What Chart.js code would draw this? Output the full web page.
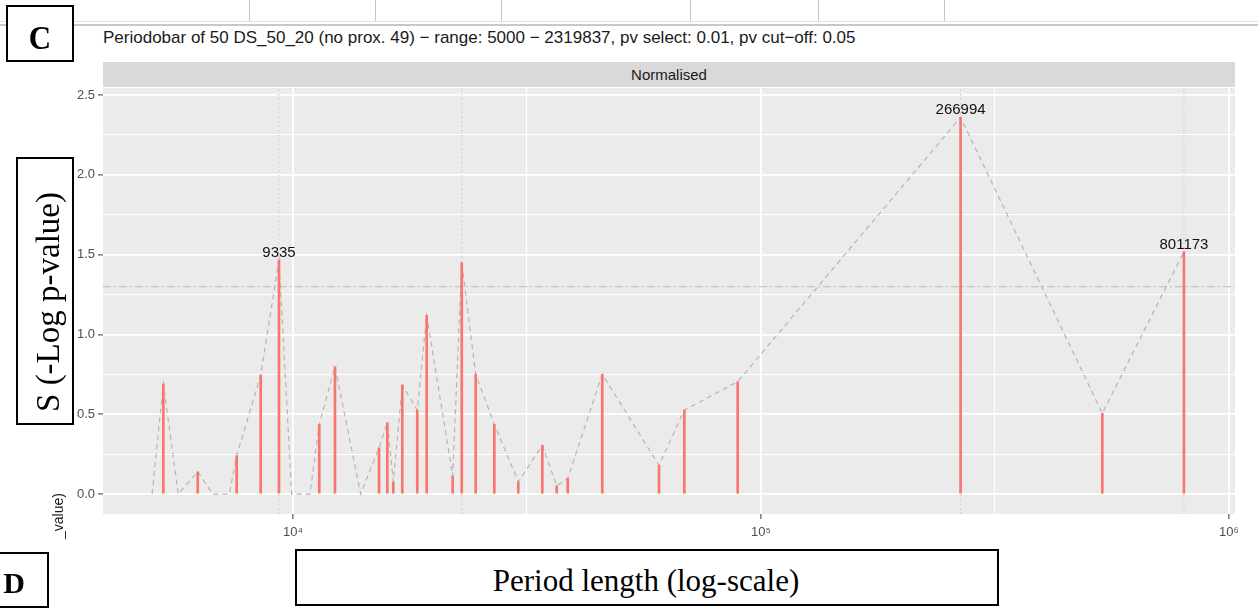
<!DOCTYPE html>
<html><head><meta charset="utf-8">
<script src="https://cdn.jsdelivr.net/npm/chart.js@4.4.0/dist/chart.umd.min.js"></script>
<style>
html,body{margin:0;padding:0;background:#fff;width:1258px;height:610px;overflow:hidden;}
body{position:relative;font-family:'Liberation Sans',Arial,sans-serif;}
#c{position:absolute;left:0;top:0;z-index:2;}
.abs{position:absolute;}
.vline{position:absolute;top:0;width:1px;height:21px;background:#c4c4c4;z-index:1;}
.box{position:absolute;box-sizing:border-box;border:2px solid #000;background:#fff;z-index:3;}
.serif{font-family:'Liberation Serif','Times New Roman',serif;color:#000;white-space:nowrap;line-height:1;}
</style></head><body>
<div class="vline" style="left:249px"></div>
<div class="vline" style="left:375px"></div>
<div class="vline" style="left:501px"></div>
<div class="vline" style="left:690px"></div>
<div class="vline" style="left:818px"></div>
<div class="vline" style="left:944px"></div>
<div class="abs" style="left:0;top:21px;width:1258px;height:1px;background:#e2e2e2;z-index:1"></div>
<div class="abs" style="left:0;top:24px;width:1258px;height:2px;background:#c8c8c8;z-index:1"></div>
<div class="abs" style="left:103px;top:29px;font-size:17px;line-height:17px;color:#1a1a1a;white-space:nowrap;z-index:1">Periodobar of 50 DS_50_20 (no prox. 49) − range: 5000 − 2319837, pv select: 0.01, pv cut−off: 0.05</div>
<div class="abs" style="left:103px;top:62px;width:1132px;height:25px;background:#D9D9D9;z-index:1;text-align:center;line-height:25px;font-size:15px;color:#1a1a1a">Normalised</div>
<canvas id="c" width="1258" height="610"></canvas>

<div class="box" style="left:6px;top:5px;width:68px;height:57px"></div>
<div class="abs serif" style="left:40px;top:37px;transform:translate(-50%,-50%) scaleY(1.12);font-size:31px;font-weight:bold;z-index:4">C</div>

<div class="abs" style="left:58px;top:516px;transform:translate(-50%,-50%) rotate(-90deg);font-size:14px;color:#1a1a1a;white-space:nowrap;z-index:2">_value)</div>

<div class="box" style="left:16px;top:157px;width:58px;height:268px"></div>
<div class="abs serif" style="left:48px;top:302px;transform:translate(-50%,-50%) rotate(-90deg);font-size:33px;z-index:4">S (-Log p-value)</div>

<div class="box" style="left:-22px;top:552px;width:71px;height:56px"></div>
<div class="abs serif" style="left:14px;top:583px;transform:translate(-50%,-50%);font-size:30px;font-weight:bold;z-index:4">D</div>

<div class="box" style="left:295px;top:549px;width:704px;height:57px"></div>
<div class="abs serif" style="left:646px;top:580px;transform:translate(-50%,-50%);font-size:31px;z-index:4">Period length (log-scale)</div>

<script>
// ---- data ----
const periods = [5000, 5284, 5686, 6258, 6736, 7310, 7580, 8531, 9335, 9936, 10873, 11381, 12295, 13953, 15271, 15906, 16382, 17123, 18431, 19307, 21940, 22940, 24570, 26930, 30300, 34100, 36600, 38640, 45800, 60550, 68580, 89170, 266994, 536200, 801173];
const scores  = [0, 0.69, 0, 0.14, 0, 0, 0.24, 0.745, 1.466, 0, 0, 0.437, 0.798, 0, 0.29, 0.447, 0.077, 0.683, 0.526, 1.12, 0.113, 1.45, 0.75, 0.437, 0.077, 0.305, 0.052, 0.098, 0.75, 0.18, 0.526, 0.704, 2.36, 0.506, 1.518];
const labelledPeaks = [9335, 266994, 801173];
const significantPeriods = [9335, 22940, 266994, 801173];
const threshold = 1.3;
const xMajorTicks = [1e4, 1e5, 1e6];
const xTickLabels = ['10⁴', '10⁵', '10⁶'];
const xMinorTicks = [Math.pow(10, 4.5), Math.pow(10, 5.5)];
const yMajorTicks = [0, 0.5, 1, 1.5, 2, 2.5];
const yMinorTicks = [0.25, 0.75, 1.25, 1.75, 2.25];
const xLimits = [3927, 1030000];
const yLimits = [-0.125, 2.544];

// ---- helpers ----
const close = (a, b) => Math.abs(a - b) < 1e-6 * Math.max(1, Math.abs(a));
const majorX = v => xMajorTicks.findIndex(t => close(t, v));
const isMajorY = v => yMajorTicks.some(t => close(t, v));
const scoreOf = p => scores[periods.indexOf(p)];

const barData = periods.map((p, i) => ({x: p, y: scores[i]})).filter(d => d.y > 0);
const lineData = periods.map((p, i) => ({x: p, y: scores[i]}));

const panelBg = {
  id: 'panelBg',
  beforeDraw(chart) {
    const {ctx, chartArea: a} = chart;
    ctx.save();
    ctx.fillStyle = '#EBEBEB';
    ctx.fillRect(a.left, a.top, a.right - a.left, a.bottom - a.top);
    ctx.restore();
  }
};
const peakLabels = {
  id: 'peakLabels',
  afterDatasetsDraw(chart) {
    const {ctx, scales: {x, y}} = chart;
    ctx.save();
    ctx.font = '15px "Liberation Sans", Arial, sans-serif';
    ctx.fillStyle = '#111111';
    ctx.textAlign = 'center';
    ctx.textBaseline = 'alphabetic';
    labelledPeaks.forEach(p => {
      ctx.fillText(String(p), x.getPixelForValue(p), y.getPixelForValue(scoreOf(p)) - 3);
    });
    ctx.restore();
  }
};

const vDatasets = significantPeriods.map(p => ({
  type: 'line', data: [{x: p, y: yLimits[0]}, {x: p, y: yLimits[1]}],
  borderColor: '#C9C9C9', borderWidth: 1, borderDash: [1.5, 3], pointRadius: 0, order: 5
}));

new Chart(document.getElementById('c'), {
  type: 'bar',
  data: {
    datasets: [
      {type: 'bar', data: barData, backgroundColor: '#F8766D', barThickness: 2, borderWidth: 0, order: 1},
      {type: 'line', data: lineData, borderColor: '#B5B5B5', borderWidth: 1.2, borderDash: [5, 4], pointRadius: 0, tension: 0, fill: false, order: 2},
      {type: 'line', data: [{x: xLimits[0], y: threshold}, {x: xLimits[1], y: threshold}], borderColor: '#C6C6C6', borderWidth: 1.2, borderDash: [8, 3, 2, 3], pointRadius: 0, order: 3},
      ...vDatasets
    ]
  },
  options: {
    responsive: false, animation: false, devicePixelRatio: 1,
    layout: {padding: {left: 73, top: 88, right: 23, bottom: 66}},
    plugins: {legend: {display: false}, tooltip: {enabled: false}, title: {display: false}},
    scales: {
      x: {
        type: 'logarithmic', min: xLimits[0], max: xLimits[1], offset: false,
        border: {display: false},
        grid: {
          offset: false, drawTicks: true, tickLength: 5,
          color: '#FFFFFF',
          lineWidth: c => (c.tick && majorX(c.tick.value) >= 0) ? 1.8 : 1.1,
          tickColor: c => (c.tick && majorX(c.tick.value) >= 0) ? '#333333' : 'rgba(0,0,0,0)',
          tickWidth: 1
        },
        afterBuildTicks: s => { s.ticks = [...xMajorTicks, ...xMinorTicks].sort((a, b) => a - b).map(v => ({value: v})); },
        ticks: {
          autoSkip: false, maxRotation: 0, minRotation: 0, padding: 6,
          color: '#4D4D4D', font: {size: 13, family: '"Liberation Sans", Arial, sans-serif'},
          callback: v => { const i = majorX(v); return i >= 0 ? xTickLabels[i] : ''; }
        },
        afterFit: s => { s.height = 30; }
      },
      y: {
        type: 'linear', min: yLimits[0], max: yLimits[1],
        border: {display: false},
        grid: {
          drawTicks: true, tickLength: 5,
          color: '#FFFFFF',
          lineWidth: c => (c.tick && isMajorY(c.tick.value)) ? 1.8 : 1.1,
          tickColor: c => (c.tick && isMajorY(c.tick.value)) ? '#333333' : 'rgba(0,0,0,0)',
          tickWidth: 1
        },
        afterBuildTicks: s => { s.ticks = [...yMajorTicks, ...yMinorTicks].sort((a, b) => a - b).map(v => ({value: v})); },
        ticks: {
          autoSkip: false, padding: 3,
          color: '#4D4D4D', font: {size: 13, family: '"Liberation Sans", Arial, sans-serif'},
          callback: v => isMajorY(v) ? v.toFixed(1) : ''
        },
        afterFit: s => { s.width = 30; }
      }
    }
  },
  plugins: [panelBg, peakLabels]
});
</script>
</body></html>
